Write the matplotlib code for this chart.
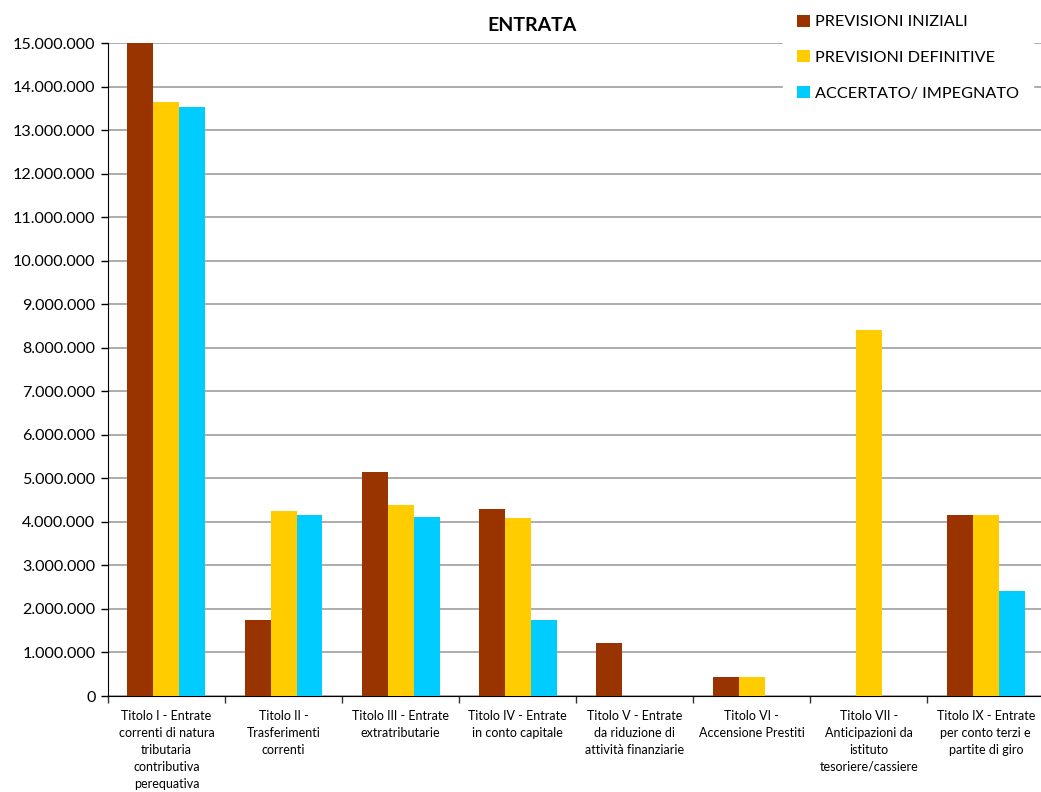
import matplotlib
matplotlib.use("Agg")
import matplotlib.pyplot as plt
from matplotlib.patches import Patch
from matplotlib.ticker import FuncFormatter
import numpy as np

plt.rcParams['font.family'] = ['Lato', 'DejaVu Sans']

titoli = [
    "Titolo I - Entrate\ncorrenti di natura\ntributaria\ncontributiva\nperequativa",
    "Titolo II -\nTrasferimenti\ncorrenti",
    "Titolo III - Entrate\nextratributarie",
    "Titolo IV - Entrate\nin conto capitale",
    "Titolo V - Entrate\nda riduzione di\nattività finanziarie",
    "Titolo VI -\nAccensione Prestiti",
    "Titolo VII -\nAnticipazioni da\nistituto\ntesoriere/cassiere",
    "Titolo IX - Entrate\nper conto terzi e\npartite di giro",
]
serie = ["PREVISIONI INIZIALI", "PREVISIONI DEFINITIVE", "ACCERTATO/ IMPEGNATO"]
previsioni_iniziali = [15000000, 1750000, 5150000, 4300000, 1220000, 440000, 0, 4160000]
previsioni_definitive = [13650000, 4250000, 4390000, 4090000, 0, 440000, 8410000, 4160000]
accertato = [13530000, 4160000, 4110000, 1750000, 0, 0, 0, 2420000]
colori = ["#993300", "#FFCC00", "#00CCFF"]

fig = plt.figure(figsize=(10.41, 7.92), dpi=100)
ax = fig.add_axes([0.1037, 0.1212, 0.8995, 0.8245])

x = np.arange(len(titoli))
w = 0.222
for k, vals in enumerate([previsioni_iniziali, previsioni_definitive, accertato]):
    ax.bar(x + (k - 1) * w, vals, width=w, color=colori[k], zorder=3, linewidth=0)

ax.set_xlim(-0.5, len(titoli) - 0.5)
ax.set_ylim(0, 15000000)
ax.set_yticks(np.arange(0, 15000001, 1000000))
ax.yaxis.set_major_formatter(FuncFormatter(lambda v, p: f"{v:,.0f}".replace(",", ".")))
ax.grid(axis='y', color='#a6a6a6', linewidth=1.3, zorder=0)

ax.set_xticks(x)
ax.set_xticklabels(titoli, fontsize=9, linespacing=1.5)
ax.set_xticks(np.arange(-0.5, len(titoli)), minor=True)
ax.tick_params(axis='x', which='major', length=0, pad=10)
ax.tick_params(axis='x', which='minor', length=5, width=1, color='#333333')
ax.tick_params(axis='y', length=5, width=1, labelsize=11.6, pad=4)

for s in ['top', 'right']:
    ax.spines[s].set_visible(False)
ax.spines['left'].set_color('black')
ax.spines['bottom'].set_color('black')

fig.text(0.511, 0.968, "ENTRATA", fontsize=14, fontweight='bold', ha='center', va='center')

handles = [Patch(facecolor=c, edgecolor='none') for c in colori]
leg = fig.legend(handles, serie, loc='upper left', bbox_to_anchor=(0.752, 1.0),
                 fontsize=11.7, handlelength=0.75, handleheight=0.75, handletextpad=0.3,
                 labelspacing=1.3, frameon=True, fancybox=False, borderpad=0.9,
                 borderaxespad=0)
leg.get_frame().set_facecolor('white')
leg.get_frame().set_edgecolor('white')
leg.get_frame().set_alpha(1)

fig.savefig("out.png", dpi=100)
